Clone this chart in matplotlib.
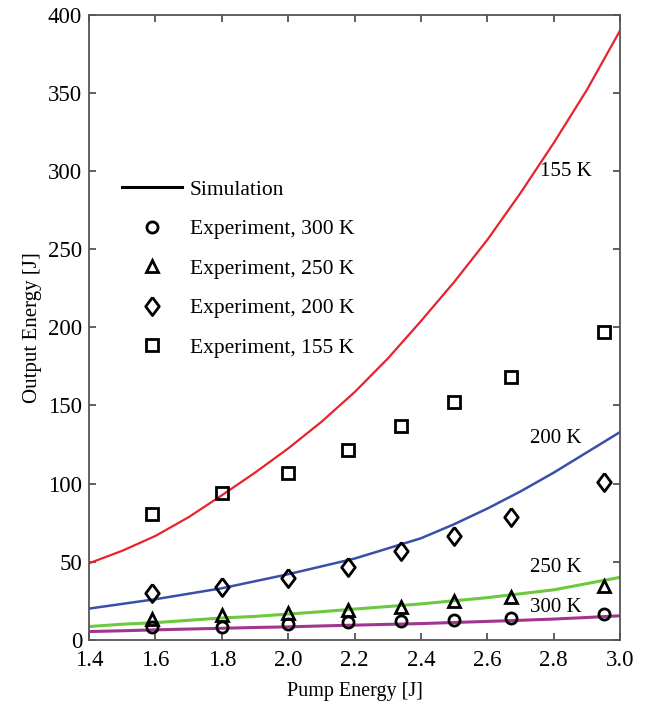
import matplotlib.pyplot as plt

plt.rcParams["font.family"] = ["Liberation Serif", "DejaVu Serif"]

sim_x = [1.4, 1.5, 1.6, 1.7, 1.8, 1.9, 2.0, 2.1, 2.2, 2.3, 2.4, 2.5, 2.6, 2.7, 2.8, 2.9, 3.0]
sim_155 = [49, 57, 66.5, 78.5, 92.5, 107, 122.5, 139.5, 158.5, 180, 204, 229, 256, 286, 318, 352, 390]
sim_200 = [20, 23, 26, 29.5, 33, 37.5, 42, 47, 52, 58.5, 65, 74, 84, 95, 107, 120, 133]
sim_250 = [8.5, 10, 11, 12.5, 14, 15, 16.5, 18, 19.7, 21.3, 23, 25, 27, 29.5, 32, 36, 40]
sim_300 = [5.3, 5.8, 6.4, 6.9, 7.4, 7.9, 8.3, 8.9, 9.4, 9.9, 10.4, 11.1, 11.8, 12.5, 13.3, 14.3, 15.4]

# experiment points
exp_x = [1.59, 1.80, 2.00, 2.18, 2.34, 2.50, 2.67, 2.95]
exp_300 = [8.1, 8.5, 10.3, 11.1, 11.8, 12.8, 14.1, 16.7]
exp_250 = [13.2, 16, 17, 18.8, 21, 24.6, 27.4, 34.2]
exp_200 = [30, 34, 39.5, 46.6, 56.6, 66.7, 78.6, 101]
exp_155 = [80.6, 94, 106.8, 121.8, 136.8, 152, 168, 197]

# slightly tall diamond, as in the original figure
diamond = [(0, 1), (0.75, 0), (0, -1), (-0.75, 0), (0, 1)]

fig = plt.figure(figsize=(6.5, 7.07), dpi=100)
ax = fig.add_axes([0.137, 0.095, 0.817, 0.884])

ax.plot(sim_x, sim_155, color="#e8232b", lw=1.6)
ax.plot(sim_x, sim_200, color="#3a4fa8", lw=1.8)
ax.plot(sim_x, sim_250, color="#6cc93f", lw=2.2)
ax.plot(sim_x, sim_300, color="#a0358f", lw=2.2)

mk = dict(linestyle="none", mfc="none", mec="black", mew=2.0, ms=8)
ax.plot([], [], color="black", lw=2.2, label="Simulation")
ax.plot(exp_x, exp_300, marker="o", label="Experiment, 300 K", **mk)
ax.plot(exp_x, exp_250, marker="^", label="Experiment, 250 K", **mk)
ax.plot(exp_x, exp_200, marker=diamond, label="Experiment, 200 K", **dict(mk, ms=13))
ax.plot(exp_x, exp_155, marker="s", label="Experiment, 155 K", **mk)

ax.text(2.76, 300, "155 K", fontsize=15, va="center")
ax.text(2.73, 129, "200 K", fontsize=15, va="center")
ax.text(2.73, 46, "250 K", fontsize=15, va="center")
ax.text(2.73, 21, "300 K", fontsize=15, va="center")

ax.set_xlim(1.4, 3.0)
ax.set_ylim(0, 400)
ax.set_xticks([1.4, 1.6, 1.8, 2.0, 2.2, 2.4, 2.6, 2.8, 3.0])
ax.set_xticklabels(["1.4", "1.6", "1.8", "2.0", "2.2", "2.4", "2.6", "2.8", "3.0"])
ax.set_yticks(range(0, 401, 50))
ax.tick_params(direction="in", top=True, right=True, length=5, width=1.2,
               labelsize=16.5, color="#444444")
ax.tick_params(axis="x", pad=7)
ax.tick_params(axis="y", pad=5)
for s in ax.spines.values():
    s.set_color("#555555")
    s.set_linewidth(1.3)

ax.set_xlabel("Pump Energy [J]", fontsize=14.5, labelpad=8)
ax.set_ylabel("Output Energy [J]", fontsize=15, labelpad=4)

ax.legend(loc="upper left", bbox_to_anchor=(0.025, 0.767), frameon=False,
          fontsize=15.5, handlelength=2.8, handletextpad=0.35, labelspacing=0.9)

fig.savefig("out.png", dpi=100)
